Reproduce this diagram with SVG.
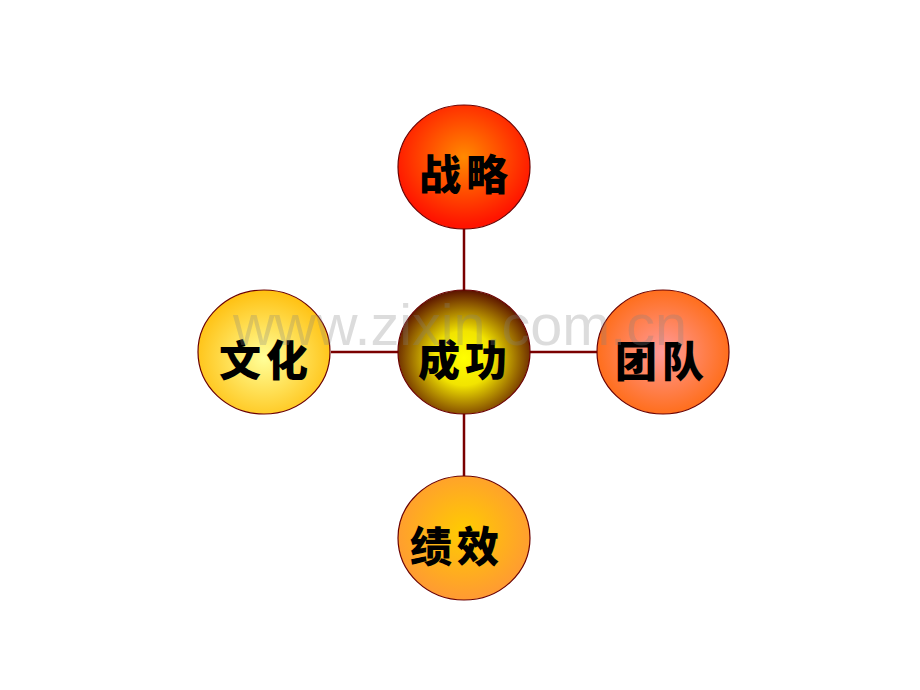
<svg xmlns="http://www.w3.org/2000/svg" width="920" height="690" viewBox="0 0 920 690">
<defs>
<radialGradient id="gTop" cx="50%" cy="42%" r="55%"><stop offset="0" stop-color="#ff8a00"/><stop offset="1" stop-color="#ff1400"/></radialGradient>
<radialGradient id="gCenter" cx="50%" cy="55%" r="55%"><stop offset="0" stop-color="#ffff00"/><stop offset="0.4" stop-color="#f2e400"/><stop offset="1" stop-color="#5a1200"/></radialGradient>
<radialGradient id="gLeft" cx="50%" cy="55%" r="55%"><stop offset="0" stop-color="#ffff99"/><stop offset="1" stop-color="#ffc010"/></radialGradient>
<radialGradient id="gRight" cx="50%" cy="50%" r="55%"><stop offset="0" stop-color="#ff9a9a"/><stop offset="1" stop-color="#ff6a10"/></radialGradient>
<radialGradient id="gBottom" cx="50%" cy="45%" r="55%"><stop offset="0" stop-color="#ffcc00"/><stop offset="1" stop-color="#ff9a33"/></radialGradient>
</defs>
<style>
.node ellipse{stroke:#6b0000;stroke-width:1.2}
.node text{font-family:"Noto Sans CJK SC","Noto Sans CJK JP",sans-serif;font-weight:900;font-size:42px;fill:#000;text-anchor:middle;dominant-baseline:central;letter-spacing:5px}
.conn line{stroke:#7a0000;stroke-width:2.5}
.wm{font-family:"Liberation Sans",Arial,sans-serif;font-size:57px;fill:#808080;fill-opacity:0.28}
</style>
<rect width="920" height="690" fill="#fff"/>
<g id="connectors" class="conn">
<line x1="464" y1="229" x2="464" y2="291"/>
<line x1="464" y1="414" x2="464" y2="477"/>
<line x1="331" y1="352" x2="398" y2="352"/>
<line x1="530" y1="352" x2="597" y2="352"/>
</g>
<g id="node-strategy" class="node"><ellipse cx="464" cy="167" rx="66" ry="62" fill="url(#gTop)"/><text x="466" y="171">战略</text></g>
<g id="node-success" class="node"><ellipse cx="464" cy="352" rx="66" ry="62" fill="url(#gCenter)"/><text x="465" y="357">成功</text></g>
<g id="node-culture" class="node"><ellipse cx="264" cy="352" rx="66" ry="62" fill="url(#gLeft)"/><text x="266" y="357">文化</text></g>
<g id="node-team" class="node"><ellipse cx="663" cy="352" rx="66" ry="62" fill="url(#gRight)"/><text x="662" y="358">团队</text></g>
<g id="node-performance" class="node"><ellipse cx="464" cy="538" rx="66" ry="62" fill="url(#gBottom)"/><text x="457" y="543">绩效</text></g>
<text class="wm" x="233" y="345" textLength="454" lengthAdjust="spacingAndGlyphs">www.zixin.com.cn</text>
</svg>
